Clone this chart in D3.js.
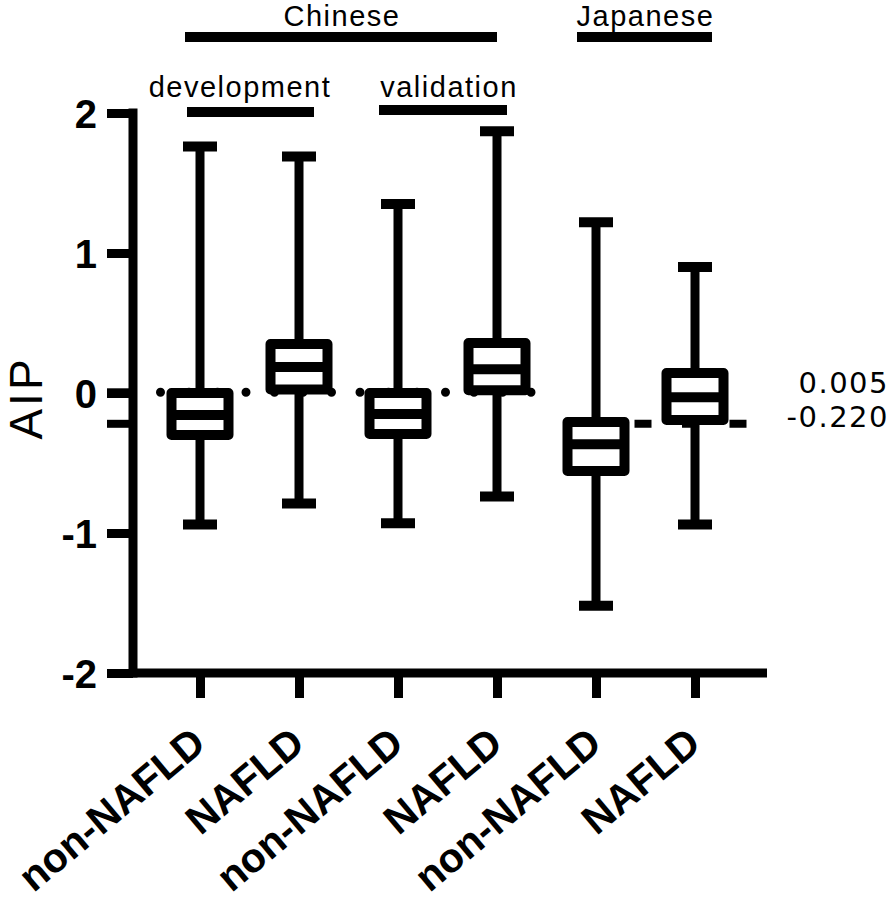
<!DOCTYPE html>
<html>
<head>
<meta charset="utf-8">
<script src="https://cdn.jsdelivr.net/npm/d3@7"></script>
<style>
  html, body { margin: 0; padding: 0; background: #fff; }
  svg { display: block; }
</style>
</head>
<body>
<script>
// ---- data ----
const categories = ["non-NAFLD", "NAFLD", "non-NAFLD", "NAFLD", "non-NAFLD", "NAFLD"];
const whiskerMax = [1.76, 1.69, 1.35, 1.87, 1.22, 0.90];
const q3Values   = [0.00, 0.35, 0.00, 0.357, -0.207, 0.143];
const medians    = [-0.157, 0.186, -0.15, 0.17, -0.366, -0.03];
const q1Values   = [-0.30, 0.025, -0.293, 0.02, -0.557, -0.193];
const whiskerMin = [-0.94, -0.79, -0.93, -0.74, -1.52, -0.94];
const yTicks = [-2, -1, 0, 1, 2];
const refValues = [0.005, -0.220];
const refLabels = ["0.005", "-0.220"];
const groupLabels = ["Chinese", "development", "validation", "Japanese"];

const W = 894, H = 906;
const svg = d3.select("body").append("svg").attr("width", W).attr("height", H);

const idx = d3.range(categories.length);
const x = d3.scalePoint().domain(idx).range([200, 695]);
const y = d3.scaleLinear().domain([-2, 2]).range([673, 113]);

const AXW = 9;

// ---- reference lines (behind boxes) ----
svg.append("line")
  .attr("x1", 132).attr("x2", 534)
  .attr("y1", y(refValues[0])).attr("y2", y(refValues[0]))
  .attr("stroke", "#000").attr("stroke-width", 9)
  .attr("stroke-linecap", "round")
  .attr("stroke-dasharray", "0 28.5");

svg.append("line")
  .attr("x1", x(4) - 9).attr("x2", x(5) + 52.5)
  .attr("y1", y(refValues[1])).attr("y2", y(refValues[1]))
  .attr("stroke", "#000").attr("stroke-width", 8)
  .attr("stroke-dasharray", "17 30.5");

// ---- boxes ----
const bw = 57, capW = 34;
const g = svg.append("g");
idx.forEach(i => {
  const cx = x(i);
  g.append("line").attr("x1", cx).attr("x2", cx)
    .attr("y1", y(whiskerMax[i])).attr("y2", y(q3Values[i]))
    .attr("stroke", "#000").attr("stroke-width", 9);
  g.append("line").attr("x1", cx).attr("x2", cx)
    .attr("y1", y(q1Values[i])).attr("y2", y(whiskerMin[i]))
    .attr("stroke", "#000").attr("stroke-width", 9);
  [whiskerMax[i], whiskerMin[i]].forEach(v => {
    g.append("line").attr("x1", cx - capW / 2).attr("x2", cx + capW / 2)
      .attr("y1", y(v)).attr("y2", y(v))
      .attr("stroke", "#000").attr("stroke-width", 10);
  });
  g.append("rect")
    .attr("x", cx - bw / 2).attr("width", bw)
    .attr("y", y(q3Values[i])).attr("height", y(q1Values[i]) - y(q3Values[i]))
    .attr("fill", "#fff").attr("stroke", "#000").attr("stroke-width", 10)
    .attr("stroke-linejoin", "round");
  g.append("line").attr("x1", cx - bw / 2).attr("x2", cx + bw / 2)
    .attr("y1", y(medians[i])).attr("y2", y(medians[i]))
    .attr("stroke", "#000").attr("stroke-width", 10);
});

// ---- Y axis ----
const yAxisG = svg.append("g").attr("transform", "translate(133,0)");
yAxisG.append("line").attr("x1", 0).attr("x2", 0)
  .attr("y1", y(2) - AXW / 2).attr("y2", y(-2) + AXW / 2)
  .attr("stroke", "#000").attr("stroke-width", AXW);
const yAx = d3.axisLeft(y).tickValues(yTicks).tickSize(26).tickSizeOuter(0).tickPadding(10)
  .tickFormat(d => String(d));
const yAxis = yAxisG.append("g").call(yAx);
yAxis.select(".domain").remove();
yAxis.selectAll(".tick line").attr("stroke", "#000").attr("stroke-width", AXW);
yAxis.selectAll(".tick text")
  .attr("font-family", "Arial, 'Liberation Sans', sans-serif")
  .attr("font-weight", "bold").attr("font-size", 40)
  .attr("fill", "#000").attr("dy", "0.35em");
refValues.forEach(v => {
  yAxisG.append("line").attr("x1", -26).attr("x2", 0)
    .attr("y1", y(v)).attr("y2", y(v))
    .attr("stroke", "#000").attr("stroke-width", 8);
});

// ---- X axis ----
const xAxisG = svg.append("g").attr("transform", "translate(0,673)");
xAxisG.append("line").attr("x1", 133).attr("x2", 767).attr("y1", 0).attr("y2", 0)
  .attr("stroke", "#000").attr("stroke-width", AXW);
const xAx = d3.axisBottom(x).tickSize(25).tickSizeOuter(0).tickFormat(() => "");
const xAxis = xAxisG.append("g").call(xAx);
xAxis.select(".domain").remove();
xAxis.selectAll(".tick line").attr("stroke", "#000").attr("stroke-width", AXW);
xAxis.selectAll(".tick text").remove();

svg.append("g").selectAll("text").data(idx).join("text")
  .attr("transform", i => `translate(${x(i) + 8},747) rotate(-40)`)
  .attr("text-anchor", "end")
  .attr("font-family", "Arial, 'Liberation Sans', sans-serif")
  .attr("font-weight", "bold").attr("font-size", 41)
  .attr("fill", "#000")
  .text(i => categories[i]);

// ---- Y label ----
svg.append("text")
  .attr("transform", "translate(42,398) rotate(-90)")
  .attr("text-anchor", "middle")
  .attr("font-family", "Arial, 'Liberation Sans', sans-serif")
  .attr("font-size", 46).attr("letter-spacing", "3px")
  .attr("fill", "#000")
  .text("AIP");

// ---- reference labels ----
const refLabY = [393, 427];
refLabels.forEach((t, k) => {
  svg.append("text")
    .attr("x", 889).attr("y", refLabY[k])
    .attr("text-anchor", "end")
    .attr("font-family", "'DejaVu Sans', Verdana, sans-serif")
    .attr("font-size", 29).attr("letter-spacing", "1.5px")
    .attr("fill", "#000")
    .text(t);
});

// ---- group annotations ----
const groups = [
  { label: groupLabels[0], x1: x(0) - 15, x2: x(3), barY: 37, textY: 26 },
  { label: groupLabels[1], x1: x(0) - 13, x2: x(1) + 15, barY: 112, textY: 97, tx: 240 },
  { label: groupLabels[2], x1: x(2) - 19, x2: x(3) + 10, barY: 110, textY: 97, tx: 449 },
  { label: groupLabels[3], x1: x(4) - 19, x2: x(5) + 17, barY: 37, textY: 26 }
];
groups.forEach(d => {
  svg.append("line").attr("x1", d.x1).attr("x2", d.x2)
    .attr("y1", d.barY).attr("y2", d.barY)
    .attr("stroke", "#000").attr("stroke-width", 10);
  svg.append("text")
    .attr("x", d.tx !== undefined ? d.tx : (d.x1 + d.x2) / 2 + 1)
    .attr("y", d.textY)
    .attr("text-anchor", "middle")
    .attr("font-family", "Arial, 'Liberation Sans', sans-serif")
    .attr("font-size", 29).attr("letter-spacing", "1.5px")
    .attr("fill", "#000")
    .text(d.label);
});
</script>
</body>
</html>
